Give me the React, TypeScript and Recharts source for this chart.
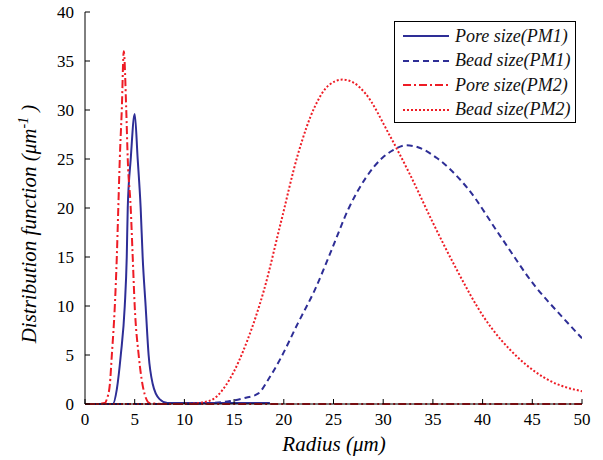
import { Legend, Line, LineChart, XAxis, YAxis } from "recharts";

// Radius (um) samples and distribution values
const porePM1X = [0, 1, 2, 2.8, 3.2, 3.6, 4.0, 4.2, 4.3, 4.6, 5.0, 5.3, 5.6, 5.8, 6.1, 6.4, 6.8, 7.5, 8.3, 10, 15, 18.6];
const porePM1Y = [0, 0, 0, 0, 1.5, 5, 10, 15, 20, 25, 29.6, 25, 20, 15, 10, 5, 2.1, 0.5, 0.1, 0.1, 0.1, 0.1];

const beadPM1X = [0, 5, 10, 12, 14.6, 16, 17.4, 18.5, 19.7, 21.4, 23.1, 24.8, 26.5, 28.2, 29.9, 31, 32.3, 33.5, 35.4, 38.5, 41.8, 45.3, 48, 50];
const beadPM1Y = [0, 0, 0, 0.05, 0.3, 0.6, 1.05, 2.6, 4.7, 8.2, 11.6, 15.7, 19.9, 23.0, 25.1, 25.9, 26.4, 26.2, 25.1, 22.0, 17.1, 12.0, 8.9, 6.7];

const porePM2X = [0, 1, 2.0, 2.2, 2.5, 2.7, 3.0, 3.2, 3.35, 3.5, 3.7, 3.9, 4.15, 4.3, 4.6, 4.8, 5.0, 5.4, 6.0, 6.5, 8, 10, 20, 30, 40, 50];
const porePM2Y = [0, 0, 0.1, 0.5, 2, 5, 10, 15, 20, 25, 30, 36, 30, 25, 20, 15, 10, 5, 1, 0.1, 0, 0, 0, 0, 0, 0];

const beadPM2X = [0, 5, 9, 10.9, 12.0, 12.9, 14.6, 16.3, 18.0, 19.7, 21.4, 23.1, 24.5, 25.9, 27, 28.2, 30.6, 32.7, 35.0, 37.4, 40.1, 43.6, 46.9, 50];
const beadPM2Y = [0, 0, 0, 0.05, 0.2, 0.5, 2.6, 6.4, 11.6, 18.5, 25.4, 30.3, 32.5, 33.1, 32.8, 31.7, 27.5, 23.4, 18.5, 13.7, 8.9, 4.7, 2.3, 1.3];

const xTicks = [0, 5, 10, 15, 20, 25, 30, 35, 40, 45, 50];
const yTicks = [0, 5, 10, 15, 20, 25, 30, 35, 40];

const BLUE = "#2e2e96";
const RED = "#ee1c25";
const SERIF = "'Times New Roman', Times, 'Liberation Serif', 'DejaVu Serif', serif";

const toPoints = (xs: number[], ys: number[]) => xs.map((x, i) => ({ x, y: ys[i] }));

const series = [
  { name: "Pore size(PM1)", data: toPoints(porePM1X, porePM1Y), color: BLUE, dash: undefined, width: 2 },
  { name: "Bead size(PM1)", data: toPoints(beadPM1X, beadPM1Y), color: BLUE, dash: "6 4", width: 2 },
  { name: "Pore size(PM2)", data: toPoints(porePM2X, porePM2Y), color: RED, dash: "8 3 2 3", width: 2 },
  { name: "Bead size(PM2)", data: toPoints(beadPM2X, beadPM2Y), color: RED, dash: "2 2", width: 2 },
];

function LegendBox() {
  return (
    <div style={{ border: "1px solid #000", background: "#fff", padding: "2px 8px 0 8px", width: 164, boxSizing: "content-box" }}>
      {series.map((s) => (
        <div key={s.name} style={{ height: 24.5, display: "flex", alignItems: "center" }}>
          <svg width={46} height={10} style={{ flex: "none" }}>
            <line x1={0} x2={46} y1={5} y2={5} stroke={s.color} strokeWidth={s.width} strokeDasharray={s.dash} />
          </svg>
          <span style={{ marginLeft: 6, fontFamily: SERIF, fontStyle: "italic", fontSize: 18, color: "#111", whiteSpace: "nowrap" }}>
            {s.name}
          </span>
        </div>
      ))}
    </div>
  );
}

const tickStyle = { fontFamily: SERIF, fontSize: 17, fill: "#000" };

export default function App() {
  return (
    <div style={{ position: "absolute", left: 0, top: 0, background: "#fff", fontFamily: SERIF }}>
      <LineChart width={603} height={460} margin={{ top: 12, right: 21, bottom: 0, left: 0 }} style={{ fontFamily: SERIF }}>
        <XAxis
          dataKey='x'
          type='number'
          domain={[0, 50]}
          ticks={xTicks}
          allowDataOverflow
          height={56}
          tickSize={-5}
          tickMargin={14}
          tick={tickStyle}
          axisLine={{ stroke: "#000" }}
          tickLine={{ stroke: "#000" }}
          label={{
            content: () => (
              <text x={334} y={451} textAnchor='middle' style={{ fontFamily: SERIF, fontStyle: "italic", fontSize: 21 }} fill='#000'>
                Radius (μm)
              </text>
            ),
          }}
        />
        <XAxis
          xAxisId='top'
          orientation='top'
          dataKey='x'
          type='number'
          domain={[0, 50]}
          ticks={xTicks}
          height={0}
          tickSize={-5}
          tick={false}
          axisLine={{ stroke: "#000" }}
          tickLine={{ stroke: "#000" }}
        />
        <YAxis
          type='number'
          domain={[0, 40]}
          ticks={yTicks}
          width={85}
          tickSize={-5}
          tickMargin={16}
          tick={tickStyle}
          axisLine={{ stroke: "#000" }}
          tickLine={{ stroke: "#000" }}
          label={{
            content: () => (
              <text
                x={36}
                y={224}
                transform='rotate(-90, 36, 224)'
                textAnchor='middle'
                style={{ fontFamily: SERIF, fontStyle: "italic", fontSize: 21 }}
                fill='#000'
              >
                Distribution function (μm
                <tspan dy={-8} fontSize={14}>
                  -1
                </tspan>
                <tspan dy={8}> )</tspan>
              </text>
            ),
          }}
        />
        <YAxis
          yAxisId='right'
          orientation='right'
          type='number'
          domain={[0, 40]}
          ticks={yTicks}
          width={0}
          tickSize={-5}
          tick={false}
          axisLine={{ stroke: "#000" }}
          tickLine={{ stroke: "#000" }}
        />
        <Legend
          layout='horizontal'
          verticalAlign='middle'
          align='center'
          wrapperStyle={{ top: 21, left: 394, width: "auto", right: "auto", bottom: "auto" }}
          content={() => <LegendBox />}
        />
        {series.map((s) => (
          <Line
            key={s.name}
            data={s.data}
            dataKey='y'
            name={s.name}
            type='monotone'
            stroke={s.color}
            strokeWidth={s.width}
            strokeDasharray={s.dash}
            dot={false}
            activeDot={false}
            isAnimationActive={false}
          />
        ))}
      </LineChart>
    </div>
  );
}
